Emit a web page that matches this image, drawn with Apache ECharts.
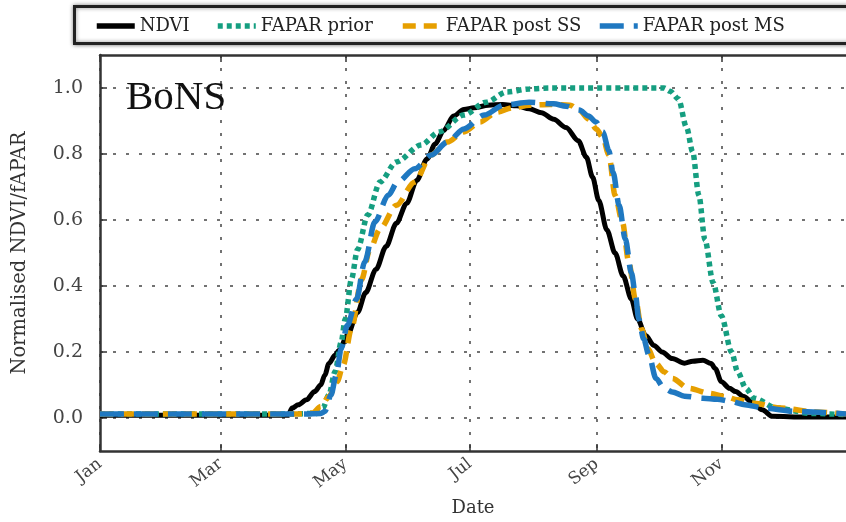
<!DOCTYPE html>
<html>
<head>
<meta charset="utf-8">
<script src="https://cdn.jsdelivr.net/npm/echarts@6/dist/echarts.min.js"></script>
<style>
html, body { margin: 0; padding: 0; background: #fff; }
#chart { width: 846px; height: 522px; }
</style>
</head>
<body>
<div id="chart"></div>
<script>
// x = day of year (0 = 1 Jan)
var monthDays = [0, 59, 120, 181, 243, 304];
var monthLabels = ['Jan', 'Mar', 'May', 'Jul', 'Sep', 'Nov'];
var yTicks = [0, 0.2, 0.4, 0.6, 0.8, 1.0];
var seriesNames = ['NDVI', 'FAPAR prior', 'FAPAR post SS', 'FAPAR post MS'];

var ndvi = [[0,0.008],[60,0.008],[92,0.008],[94,0.03],[97,0.04],[101,0.055],[105,0.08],[108,0.1],
  [110,0.13],[112,0.165],[115,0.19],[117,0.205],[121,0.25],[126,0.32],[130,0.38],[135,0.45],
  [140,0.52],[145,0.59],[150,0.65],[155,0.72],[160,0.785],[164,0.83],[168,0.87],[173,0.915],
  [178,0.935],[183,0.94],[190,0.948],[197,0.95],[204,0.946],[210,0.937],[216,0.925],[222,0.905],
  [228,0.88],[234,0.84],[238,0.79],[241,0.73],[244,0.66],[248,0.57],[252,0.5],[256,0.43],
  [260,0.36],[263,0.3],[267,0.25],[271,0.22],[275,0.2],[280,0.18],[286,0.166],[290,0.172],
  [295,0.175],[299,0.165],[301,0.15],[304,0.11],[308,0.09],[311,0.08],[315,0.065],[319,0.048],
  [324,0.025],[329,0.005],[345,0.003],[365,0.003]];

var faparPrior = [[0,0.012],[90,0.012],[106,0.014],[109,0.03],[112,0.07],[115,0.14],[118,0.23],
  [120,0.3],[123,0.42],[126,0.51],[131,0.615],[137,0.715],[145,0.776],[157,0.827],[166,0.867],
  [178,0.918],[189,0.957],[199,0.988],[210,0.997],[220,1.0],[276,1.0],[279,0.99],[283,0.967],
  [287,0.88],[290,0.806],[293,0.675],[296,0.54],[300,0.41],[304,0.31],[309,0.2],[312,0.14],
  [316,0.09],[320,0.06],[331,0.03],[348,0.014],[365,0.01]];

var faparSS = [[0,0.012],[95,0.012],[104,0.015],[108,0.035],[112,0.065],[116,0.11],[119,0.16],
  [123,0.27],[128,0.42],[132,0.51],[137,0.573],[145,0.645],[154,0.715],[162,0.797],[170,0.836],
  [178,0.867],[186,0.897],[194,0.927],[202,0.94],[210,0.948],[220,0.95],[230,0.948],[235,0.93],
  [239,0.906],[243,0.875],[246,0.85],[249,0.797],[252,0.675],[255.6,0.594],[258.7,0.473],
  [262,0.36],[265,0.27],[268,0.21],[272,0.165],[276,0.14],[280,0.12],[288,0.09],[298,0.075],
  [306,0.065],[312,0.055],[320,0.045],[333,0.03],[350,0.018],[365,0.012]];

var faparMS = [[0,0.012],[100,0.012],[108,0.014],[110,0.02],[113,0.07],[115.6,0.13],[118,0.21],
  [121,0.28],[125.5,0.36],[129.5,0.473],[134.5,0.594],[141,0.675],[145.6,0.715],[154,0.755],
  [162,0.797],[170,0.836],[178,0.876],[188,0.918],[197.5,0.948],[210,0.957],[222,0.952],
  [228,0.945],[234.5,0.933],[239,0.915],[242.7,0.897],[246,0.867],[249,0.81],[251,0.745],
  [254,0.645],[257,0.543],[260,0.44],[262,0.373],[263.6,0.3],[266,0.24],[268.6,0.19],[272,0.12],
  [276,0.09],[280,0.079],[286,0.066],[295,0.06],[302,0.057],[309,0.05],[315.5,0.04],[325,0.03],
  [340,0.02],[365,0.012]];

var serif = 'DejaVu Serif';
var chart = echarts.init(document.getElementById('chart'));

function lineSeries(name, data, color, type, width) {
  return {
    name: name,
    type: 'line',
    data: data,
    symbol: 'none',
    smooth: 0.3,
    smoothMonotone: 'x',
    itemStyle: { color: color },
    lineStyle: { color: color, width: width, type: type },
    emphasis: { disabled: true }
  };
}

var legendLefts = [89, 210, 395, 592];
var textStyle = { fontFamily: serif, fontSize: 18, color: '#222' };

var option = {
  animation: false,
  backgroundColor: '#fff',
  grid: { left: 100, top: 55, right: -6, bottom: 71 },
  legend: seriesNames.map(function (n, i) {
    return {
      data: [n], left: legendLefts[i], top: 12,
      itemWidth: 38, itemHeight: 14, itemGap: 7,
      itemStyle: { color: 'transparent', borderColor: 'transparent', borderWidth: 0 },
      lineStyle: { width: 5.5 },
      textStyle: textStyle
    };
  }),
  graphic: [
    { type: 'rect', left: 73, top: 5, z: 0,
      shape: { width: 800, height: 37 },
      style: { fill: '#fff', stroke: '#222', lineWidth: 3,
        shadowBlur: 4, shadowColor: 'rgba(0,0,0,0.45)' } },
    { type: 'text', left: 126, top: 78, z: 10,
      style: { text: 'BoNS', font: '41px "Liberation Serif"', fill: '#111' } }
  ],
  xAxis: [{
    type: 'value', min: 0, max: 365, position: 'bottom',
    name: 'Date', nameLocation: 'middle', nameGap: 48,
    nameTextStyle: { fontFamily: serif, fontSize: 18, color: '#333' },
    axisLine: { show: true, onZero: false, lineStyle: { color: '#333', width: 2.5 } },
    axisTick: { inside: true, length: 7, customValues: monthDays, lineStyle: { color: '#333', width: 1.5 } },
    axisLabel: {
      customValues: monthDays, rotate: 38, margin: 11,
      fontFamily: serif, fontSize: 17, color: '#444',
      formatter: function (v) { return monthLabels[monthDays.indexOf(v)]; }
    },
    splitLine: { show: true, lineStyle: { color: '#444', width: 1.5, type: [3, 10] } }
  }, {
    type: 'value', min: 0, max: 365, position: 'top',
    axisLine: { show: true, onZero: false, lineStyle: { color: '#333', width: 2.5 } },
    axisTick: { inside: true, length: 7, customValues: monthDays, lineStyle: { color: '#333', width: 1.5 } },
    axisLabel: { show: false },
    splitLine: { show: false }
  }],
  yAxis: {
    type: 'value', min: -0.1, max: 1.1,
    name: 'Normalised NDVI/fAPAR', nameLocation: 'middle', nameGap: 70,
    nameTextStyle: { fontFamily: serif, fontSize: 19.5, color: '#333' },
    axisLine: { show: true, onZero: false, lineStyle: { color: '#333', width: 2.5 } },
    axisTick: { inside: true, length: 7, customValues: yTicks, lineStyle: { color: '#333', width: 1.5 } },
    axisLabel: {
      customValues: yTicks, margin: 17,
      fontFamily: serif, fontSize: 19, color: '#444',
      formatter: function (v) { return v.toFixed(1); }
    },
    splitLine: { show: true, lineStyle: { color: '#444', width: 1.5, type: [3, 10] } }
  },
  series: [
    lineSeries(seriesNames[0], ndvi, '#000000', 'solid', 5),
    lineSeries(seriesNames[1], faparPrior, '#159e80', [5, 4], 5.5),
    lineSeries(seriesNames[2], faparSS, '#e69f00', [13, 8], 5.5),
    lineSeries(seriesNames[3], faparMS, '#1f78c1', [24, 10], 5.5)
  ]
};

chart.setOption(option);
</script>
</body>
</html>
